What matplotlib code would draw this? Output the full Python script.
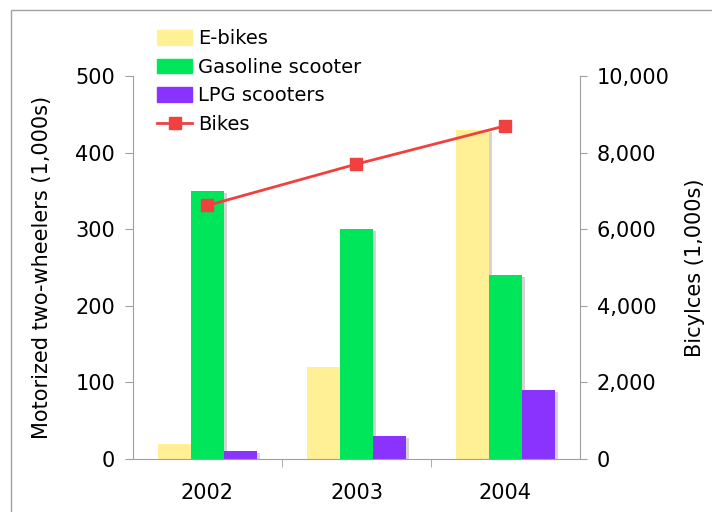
import numpy as np
import matplotlib.pyplot as plt
import matplotlib.patheffects as pe
import matplotlib.ticker as ticker
from matplotlib.patches import Rectangle, Patch
from matplotlib.lines import Line2D

#### Datos ####
years = ['2002', '2003', '2004']
ebikes = [20, 120, 430]
gasoline = [350, 300, 240]
lpg = [10, 30, 90]
bikes = [6620, 7700, 8700]

#### Colores ####
c_ebike = '#FFF096'
c_gas = '#00E65A'
c_lpg = '#8A33FF'
c_bike = '#F04040'
gris = '#A0A0A0'

#### Figura ####
fig = plt.figure(figsize=(7.12, 5.12), dpi=100)
ax = fig.add_axes([133/712, 1 - 459/512, 447/712, 383/512])
ax2 = ax.twinx()

x = np.arange(len(years))
w = 0.222
shadow = [pe.SimplePatchShadow(offset=(2, -1.5), shadow_rgbFace='#AAAAAA', alpha=0.5), pe.Normal()]

ax.bar(x - w, ebikes, w, color=c_ebike, path_effects=shadow)
ax.bar(x, gasoline, w, color=c_gas, path_effects=shadow)
ax.bar(x + w, lpg, w, color=c_lpg, path_effects=shadow)
ax2.plot(x, bikes, color=c_bike, marker='s', markersize=8, linewidth=2)

ax.set_xlim(-0.5, 2.5)
ax.set_ylim(0, 500)
ax2.set_ylim(0, 10000)
ax.yaxis.set_major_locator(ticker.MultipleLocator(100))
ax2.yaxis.set_major_locator(ticker.MultipleLocator(2000))
ax2.yaxis.set_major_formatter(ticker.FuncFormatter(lambda v, p: f'{int(v):,}'))

#### Ejes ####
for a in (ax, ax2):
    for s in a.spines.values():
        s.set_color(gris)
    a.spines['top'].set_visible(False)
ax.spines['right'].set_visible(False)
ax2.spines['left'].set_visible(False)
ax2.spines['bottom'].set_visible(False)

ax.set_xticks(x)
ax.set_xticklabels(years)
ax.set_xticks([0.5, 1.5], minor=True)
ax.tick_params(axis='x', which='major', length=0, pad=17, labelsize=15)
ax.tick_params(axis='x', which='minor', length=6, color=gris, direction='out')
ax.tick_params(axis='y', length=6, color=gris, pad=7, labelsize=15)
ax2.tick_params(axis='y', length=5, color=gris, pad=7, labelsize=15)

ax.set_ylabel('Motorized two-wheelers (1,000s)', fontsize=15, labelpad=17)
ax2.set_ylabel('Bicylces (1,000s)', fontsize=15, labelpad=11)

#### Leyenda ####
handles = [Patch(color=c_ebike, label='E-bikes'),
           Patch(color=c_gas, label='Gasoline scooter'),
           Patch(color=c_lpg, label='LPG scooters'),
           Line2D([], [], color=c_bike, marker='s', markersize=9, linewidth=2, label='Bikes')]
fig.legend(handles=handles, loc='upper left', bbox_to_anchor=(157/712, 1 - 29/512),
           frameon=False, fontsize=14, handlelength=1.8, handleheight=0.8,
           labelspacing=0.5, handletextpad=0.3, borderaxespad=0, borderpad=0)

#### Marco ####
fig.patches.append(Rectangle((11/712, -0.1), 1.2, 1.1 - 10/512, transform=fig.transFigure,
                             fill=False, edgecolor=gris, linewidth=1))

fig.savefig('out.png', dpi=100)
